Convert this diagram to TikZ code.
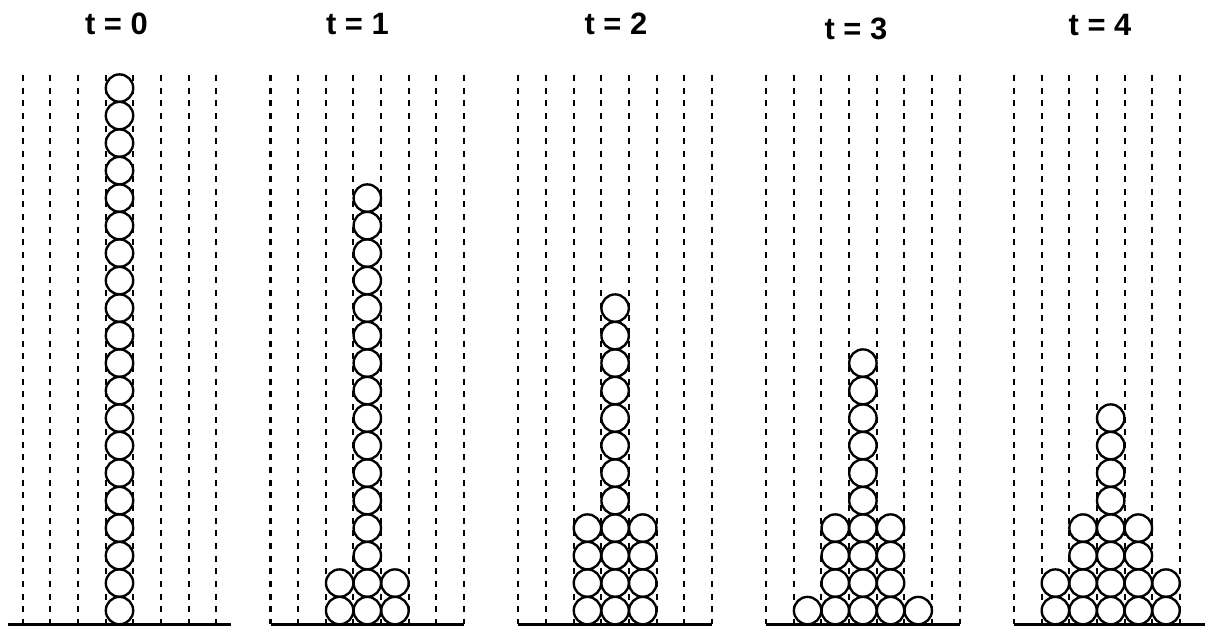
\documentclass[tikz,border=0pt]{standalone}
\usepackage{fontspec}
\setmainfont{Liberation Sans}

\begin{document}
\begin{tikzpicture}[x=0.02cm, y=0.02cm,
  ball/.style={draw, line width=1.35pt},
  wall/.style={line width=1.15pt, dash pattern=on 3.4pt off 3.8pt},
  floor/.style={line width=1.5pt},
  ttl/.style={font=\fontsize{17.6}{20}\selectfont\bfseries, inner sep=0pt}]
\useasboundingbox (0,0) rectangle (1205,628);
\clip (0,0) rectangle (1205,628);
% --- five snapshots: panel k starts at x = 22.7 + 247.8 k ---
% heights of the five middle columns in each panel
\foreach \k/\tx/\ty/\ext/\hs in {
    0/116.5/604/14.5/{0,0,20,0,0},
    1/357.5/604/0/{0,2,16,2,0},
    2/616/604/0/{0,4,12,4,0},
    3/856/599/0/{1,4,10,4,1},
    4/1100/603/0/{2,4,8,4,2}}{
  \pgfmathsetmacro\xo{22.7+247.8*\k}
  \node[ttl] (title\k) at (\tx,\ty) {t = \k};
  % column walls and floor
  \foreach \i in {0,...,7}
    \draw[wall] (\xo+27.66*\i,553) -- (\xo+27.66*\i,3.7);
  \draw[floor] (\xo-\ext,3.7) -- (\xo+193.6+\ext,3.7);
  % stacked balls
  \foreach \n [count=\c] in \hs {
    \ifnum\n>0
      \foreach \j in {1,...,\n}
        \draw[ball] (\xo+27.66*\c+13.83,17.4+27.5*\j-27.5) circle (13.7);
    \fi
  }
}
\end{tikzpicture}
\end{document}
